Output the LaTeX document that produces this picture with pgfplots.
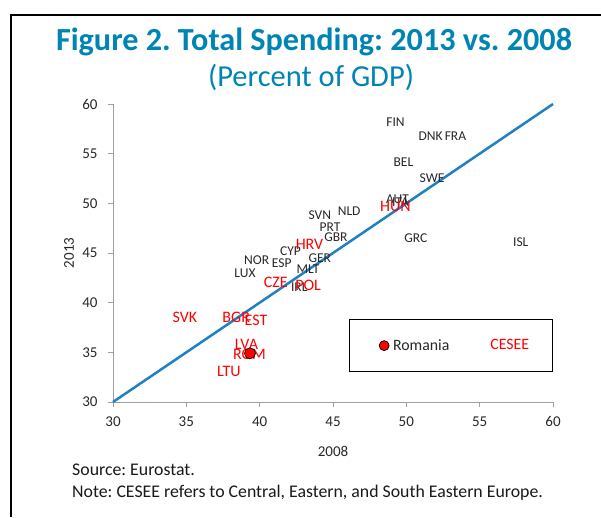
\documentclass[border=0pt]{standalone}
\usepackage{pgfplots}
\pgfplotsset{compat=1.18}
\usepackage{pgfplotstable}
\usepackage{fontspec}
\setmainfont{Carlito}
\frenchspacing
\definecolor{titleblue}{RGB}{0,132,180}
\definecolor{lineblue}{RGB}{31,128,196}
\definecolor{axgray}{RGB}{160,160,160}
\definecolor{lblack}{RGB}{40,40,40}

\pgfplotstableread{
x y lab
49.26 58.2 FIN
51.65 56.8 DNK
53.35 56.8 FRA
49.8 54.1 BEL
51.75 52.5 SWE
49.4 50.4 AUT
49.6 50.15 ITA
44.1 48.83 SVN
46.1 49.2 NLD
44.8 47.6 PRT
45.2 46.6 GBR
50.65 46.5 GRC
57.8 46.1 ISL
42.1 45.2 CYP
39.8 44.3 NOR
41.5 44.0 ESP
44.1 44.45 GER
39.0 43.0 LUX
43.3 43.4 MLT
42.7 41.6 IRL
}\blackdata

\pgfplotstableread{
x y lab
49.26 49.7 HUN
43.4 45.9 HRV
41.1 42.0 CZE
43.3 41.7 POL
34.9 38.5 SVK
38.4 38.5 BGR
39.75 38.2 EST
39.1 35.8 LVA
39.3 34.8 ROM
37.9 33.1 LTU
}\reddata

\begin{document}
\begin{tikzpicture}
\useasboundingbox (0pt,0pt) rectangle (601pt,517pt);
\draw[line width=2.5pt] (11pt,0pt) -- (11pt,502pt) -- (603pt,502pt);
\node[font=\fontsize{32.2}{36}\selectfont\bfseries, text=titleblue] at (314pt,475.5pt) {Figure 2. Total Spending: 2013 vs. 2008};
\node[font=\fontsize{30.5}{35}\selectfont, text=titleblue] at (311pt,440pt) {(Percent of GDP)};
\node[font=\fontsize{17.8}{22}\selectfont, anchor=west, text=black!90, inner sep=0pt] at (72pt,47pt) {Source: Eurostat.};
\node[font=\fontsize{17.8}{22}\selectfont, anchor=west, text=black!90, inner sep=0pt] at (72pt,24pt) {Note: CESEE refers to Central, Eastern, and South Eastern Europe.};
\begin{axis}[
  at={(113pt,115pt)}, anchor=south west,
  scale only axis, width=440pt, height=298pt,
  xmin=30, xmax=60, ymin=30, ymax=60,
  axis lines=left,
  axis line style={axgray, -, line width=0.8pt},
  xtick={30,35,...,60}, ytick={30,35,...,60},
  tick style={axgray, line width=0.8pt},
  tick align=outside, major tick length=5pt,
  ticklabel style={font=\fontsize{15}{18}\selectfont, text=lblack},
  xticklabel style={yshift=-6pt},
  yticklabel style={xshift=-7pt},
  /pgf/number format/assume math mode=true,
  xlabel={2008}, ylabel={2013},
  every axis x label/.style={at={(axis description cs:0.5,-0.1644)}, anchor=center, font=\fontsize{15}{18}\selectfont, text=lblack},
  every axis y label/.style={at={(axis description cs:-0.1,0.5)}, anchor=center, rotate=90, font=\fontsize{15}{18}\selectfont, text=lblack},
  clip=false,
  legend columns=2,
  legend style={at={(axis cs:60,33)}, anchor=south east, draw=black, line width=0.8pt,
    inner xsep=30pt, inner ysep=18pt, font=\fontsize{15.8}{18}\selectfont,
    /tikz/every odd column/.append style={column sep=2pt},
    /tikz/every even column/.append style={column sep=35pt}},
]
\addplot[lineblue, line width=2.5pt, forget plot] coordinates {(30,30) (60,60)};
\addplot[only marks, mark=none, forget plot, nodes near coords, point meta=explicit symbolic,
  every node near coord/.append style={anchor=center, inner sep=0pt, font=\fontsize{13.5}{16}\selectfont, text=lblack}]
  table[x=x, y=y, meta=lab] {\blackdata};
\addplot[only marks, mark=none, forget plot, nodes near coords, point meta=explicit symbolic,
  every node near coord/.append style={anchor=center, inner sep=0pt, font=\fontsize{16}{19}\selectfont, text=red}]
  table[x=x, y=y, meta=lab] {\reddata};
\addplot[only marks, mark=*, mark size=5.5pt, mark options={fill=red, draw=black, line width=0.7pt},
  legend image code/.code={\draw[mark=*, mark size=5pt, mark options={fill=red, draw=black, line width=0.7pt}] plot coordinates {(0pt,0pt)};}]
  coordinates {(39.34,34.9)};
\addlegendentry{\textcolor{lblack}{Romania}}
\addlegendimage{empty legend}
\addlegendentry{\textcolor{red}{CESEE}\hspace*{-8.5pt}}
\end{axis}
\end{tikzpicture}
\end{document}
